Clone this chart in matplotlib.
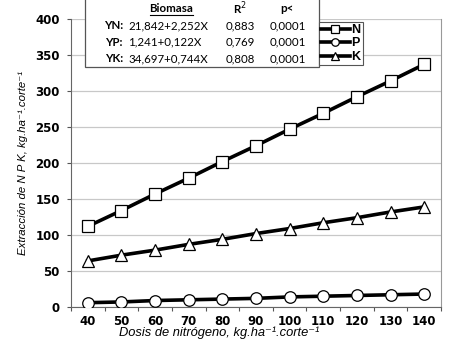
import matplotlib
matplotlib.use("Agg")
import matplotlib.pyplot as plt
from matplotlib.lines import Line2D
from matplotlib.patches import Rectangle

dosis = [40, 50, 60, 70, 80, 90, 100, 110, 120, 130, 140]
N_vals = [112, 134, 157, 179, 202, 224, 247, 269, 292, 314, 337]
P_vals = [6, 7, 9, 10, 11, 12, 14, 15, 16, 17, 18]
K_vals = [64, 72, 79, 87, 94, 102, 109, 117, 124, 132, 139]
y_ticks = [0, 50, 100, 150, 200, 250, 300, 350, 400]

eq_labels = ["YN:", "YP:", "YK:"]
eq_texts = ["21,842+2,252X", "1,241+0,122X", "34,697+0,744X"]
r2_vals = ["0,883", "0,769", "0,808"]
p_vals = ["0,0001", "0,0001", "0,0001"]

W, H = 452, 348
fig = plt.figure(figsize=(W / 100, H / 100), dpi=100)
ax = fig.add_axes([71 / W, 1 - 307 / H, (441 - 71) / W, (307 - 19) / H])

x = list(range(len(dosis)))
lw = 2.6
ax.plot(x, N_vals, color="black", lw=lw, marker="s", ms=8.3, mfc="white", mec="black", mew=0.9, label="N", zorder=3)
ax.plot(x, P_vals, color="black", lw=lw, marker="o", ms=8.3, mfc="white", mec="black", mew=0.9, label="P", zorder=3)
ax.plot(x, K_vals, color="black", lw=lw, marker="^", ms=9, mfc="white", mec="black", mew=0.9, label="K", zorder=3)

tick_font = dict(fontsize=8.5, fontweight="bold", family="DejaVu Sans")
ax.set_xlim(-0.5, len(dosis) - 0.5)
ax.set_ylim(0, 400)
ax.set_yticks(y_ticks)
ax.set_yticklabels([str(v) for v in y_ticks], **tick_font)
ax.set_xticks([i - 0.5 for i in range(len(dosis) + 1)])
ax.set_xticklabels([])
ax.set_xticks(x, minor=True)
ax.set_xticklabels([str(d) for d in dosis], minor=True, **tick_font)
ax.tick_params(axis="x", which="major", length=3, direction="out", color="#555555")
ax.tick_params(axis="x", which="minor", length=0, pad=5.5)
ax.tick_params(axis="y", length=3, direction="out", color="#555555", pad=5)

ax.grid(axis="y", color="#c8c8c8", lw=0.9)
ax.set_axisbelow(True)
ax.spines["top"].set_visible(False)
ax.spines["left"].set_color("#666666")
ax.spines["bottom"].set_color("#666666")
ax.spines["right"].set_color("#999999")

lab_fam = ["Liberation Sans", "DejaVu Sans"]
ax.set_xlabel("Dosis de nitrógeno, kg.ha\u207b\u00b9.corte\u207b\u00b9", fontsize=9.3, style="italic", family=lab_fam)
ax.xaxis.set_label_coords((219 - 71) / 370, -(333 - 307) / 288, transform=ax.transAxes)
ax.xaxis.label.set_va("center")
ax.set_ylabel("Extracción de N P K, kg.ha\u207b\u00b9.corte\u207b\u00b9", fontsize=8.2, style="italic", family=lab_fam)
ax.yaxis.set_label_coords(-(71 - 23) / 370, 0.5)
ax.yaxis.label.set_va("center")

# legend
leg = fig.legend(loc="upper left", bbox_to_anchor=(319 / W, 1 - 22 / H), frameon=True,
                 fancybox=False, edgecolor="#555555", framealpha=1, handlelength=2.3,
                 handletextpad=0.15, borderpad=0.15, labelspacing=0.12, borderaxespad=0,
                 prop={"weight": "bold", "size": 9, "family": "Liberation Sans"}, markerscale=0.65)
leg.get_frame().set_linewidth(0.8)

# table box
fig.add_artist(Rectangle((85 / W, 1 - 67 / H), (319 - 85) / W, 67 / H + 0.01,
                         transform=fig.transFigure, fill=True, facecolor="white",
                         edgecolor="#555555", lw=0.9, zorder=5))
tf = "Lato"
fs = 8.3
def ty(py):
    return 1 - py / H
fig.text(171 / W, ty(9), "Biomasa", ha="center", va="center", fontsize=fs, fontweight="bold", family=tf, zorder=6)
fig.add_artist(Line2D([150 / W, 193 / W], [ty(15), ty(15)], transform=fig.transFigure, color="black", lw=0.8, zorder=6))
fig.text(240 / W, ty(9), "R$^{2}$", ha="center", va="center", fontsize=fs, fontweight="bold", family=tf, zorder=6)
fig.text(287 / W, ty(9), "p<", ha="center", va="center", fontsize=fs, fontweight="bold", family=tf, zorder=6)
for i in range(3):
    yy = ty(25.5 + i * 16.5)
    fig.text(123 / W, yy, eq_labels[i], ha="right", va="center", fontsize=fs, fontweight="bold", family=tf, zorder=6)
    fig.text(128 / W, yy, eq_texts[i], ha="left", va="center", fontsize=fs, family=tf, zorder=6)
    fig.text(240 / W, yy, r2_vals[i], ha="center", va="center", fontsize=fs, family=tf, zorder=6)
    fig.text(288 / W, yy, p_vals[i], ha="center", va="center", fontsize=fs, family=tf, zorder=6)

fig.savefig("out.png", dpi=100)
